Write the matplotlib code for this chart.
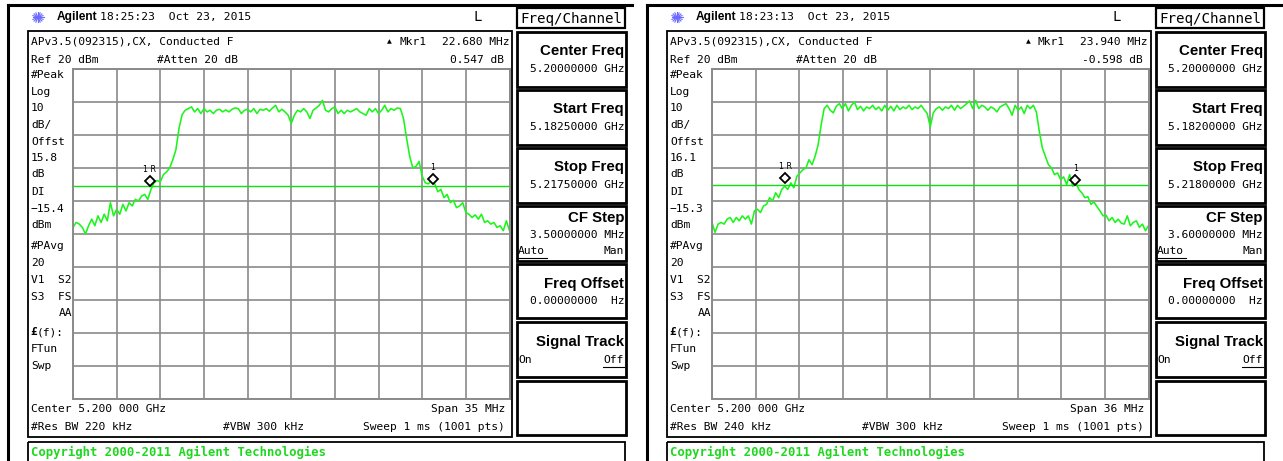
import matplotlib.pyplot as plt
import numpy as np
from matplotlib.patches import Rectangle

W, H = 1283, 461
MONO = "DejaVu Sans Mono"
SANS = "Liberation Sans"
TRACE_GREEN = "#1cf51c"
DL_GREEN = "#10e010"
TEXT_GREEN = "#1ed81e"
GRID_GREY = "#8a8a8a"

# ---- values ----
REF_DBM = 20
DB_PER_DIV = 10

LEFT_TIME = "18:25:23"
LEFT_SPAN_MHZ = 35
LEFT_RBW = "220 kHz"
LEFT_OFFSET = "15.8"
LEFT_DL_DBM = -15.4
LEFT_MKR_TEXT = ["22.680 MHz", "0.547 dB"]
LEFT_MKR_MHZ = [-11.34, 11.34]
LEFT_MKR_DBM = [-13.8, -13.2]
LEFT_START = "5.18250000 GHz"
LEFT_STOP = "5.21750000 GHz"
LEFT_CF_STEP = "3.50000000 MHz"
# trace level (dBm), sweep from start to stop
LEFT_LEVELS = [
    -28.0, -26.5, -27.0, -28.0, -30.0, -27.5, -25.5, -27.5, -24.5, -26.5,
    -24.0, -26.0, -20.5, -24.5, -22.5, -24.0, -21.0, -23.0, -20.5, -21.5,
    -19.5, -20.0, -18.5, -18.0, -19.5, -16.5, -14.5, -13.8, -14.2, -12.0,
    -11.2, -10.0, -7.5, -4.5, 2.0, 6.2, 7.5, 8.0, 8.5, 7.0,
    8.0, 6.5, 8.0, 7.0, 7.5, 6.5, 7.5, 7.8, 7.0, 7.6,
    7.0, 7.8, 8.2, 8.0, 6.5, 7.5, 7.8, 7.0, 8.0, 6.5,
    7.8, 7.5, 8.0, 7.2, 8.2, 9.0, 7.0, 7.8, 7.0, 6.0,
    3.5, 6.0, 7.5, 7.0, 8.0, 7.0, 5.0, 7.5, 8.2, 9.0,
    10.5, 7.5, 7.0, 8.0, 8.5, 6.5, 7.5, 6.5, 7.5, 7.0,
    7.5, 8.0, 7.0, 6.5, 6.0, 8.0, 7.0, 8.0, 6.5, 7.5,
    9.0, 7.0, 8.0, 7.5, 8.2, 8.0, 5.0, -1.0, -6.5, -10.0,
    -9.5, -8.0, -12.5, -14.5, -14.8, -13.8, -14.8, -17.2, -16.5, -19.0,
    -18.0, -20.5, -19.8, -22.0, -21.5, -20.5, -23.5, -24.0, -25.0, -24.2,
    -25.5, -24.0, -26.5, -26.0, -27.0, -26.5, -28.0, -27.5, -29.0, -26.0,
    -29.0,
]

RIGHT_TIME = "18:23:13"
RIGHT_SPAN_MHZ = 36
RIGHT_RBW = "240 kHz"
RIGHT_OFFSET = "16.1"
RIGHT_DL_DBM = -15.3
RIGHT_MKR_TEXT = ["23.940 MHz", "-0.598 dB"]
RIGHT_MKR_MHZ = [-11.97, 11.97]
RIGHT_MKR_DBM = [-13.0, -13.5]
RIGHT_START = "5.18200000 GHz"
RIGHT_STOP = "5.21800000 GHz"
RIGHT_CF_STEP = "3.60000000 MHz"
RIGHT_LEVELS = [
    -26.5, -29.5, -27.0, -26.5, -27.0, -25.5, -25.0, -26.5, -25.0, -26.0,
    -24.5, -25.5, -24.5, -27.0, -23.0, -22.5, -23.5, -21.5, -21.0, -19.0,
    -20.0, -17.5, -19.0, -16.5, -15.5, -16.5, -14.5, -16.0, -12.5, -11.5,
    -10.5, -10.0, -7.5, -9.0, -6.5, -3.0, 3.0, 8.0, 9.0, 7.5,
    6.7, 8.7, 9.5, 8.0, 9.5, 7.3, 9.0, 10.0, 7.7, 8.7,
    7.3, 8.5, 8.0, 9.0, 7.7, 8.5, 7.3, 9.0, 7.5, 8.7,
    7.3, 9.0, 7.7, 8.5, 8.0, 9.0, 7.7, 8.5, 8.0, 9.0,
    7.7, 6.5, 2.5, 6.7, 8.0, 8.5, 7.5, 8.5, 8.0, 9.0,
    7.5, 9.0, 8.0, 8.7, 9.5, 10.3, 8.0, 10.5, 8.0, 9.0,
    8.5, 7.5, 8.5, 8.0, 7.0, 8.5, 9.0, 9.5, 8.0, 6.0,
    9.0, 7.5, 8.5, 6.5, 9.0, 8.0, 9.0, 7.0, 1.0, -4.0,
    -6.5, -9.0, -10.0, -12.0, -11.5, -13.5, -12.7, -15.0, -12.0, -15.5,
    -14.3, -16.5, -17.5, -19.0, -18.7, -21.0, -20.3, -21.7, -23.0, -24.5,
    -24.3, -26.0, -25.0, -26.5, -25.5, -26.7, -27.0, -24.5, -27.5, -26.5,
    -26.0, -28.0, -27.0, -29.0, -27.5,
]

PANELS = [
    dict(ox=0, time=LEFT_TIME, span=LEFT_SPAN_MHZ, rbw=LEFT_RBW,
         offset=LEFT_OFFSET, dl=LEFT_DL_DBM, mkr_text=LEFT_MKR_TEXT,
         mkr_x=LEFT_MKR_MHZ, mkr_y=LEFT_MKR_DBM, start=LEFT_START,
         stop=LEFT_STOP, step=LEFT_CF_STEP, levels=LEFT_LEVELS, right=632),
    dict(ox=639, time=RIGHT_TIME, span=RIGHT_SPAN_MHZ, rbw=RIGHT_RBW,
         offset=RIGHT_OFFSET, dl=RIGHT_DL_DBM, mkr_text=RIGHT_MKR_TEXT,
         mkr_x=RIGHT_MKR_MHZ, mkr_y=RIGHT_MKR_DBM, start=RIGHT_START,
         stop=RIGHT_STOP, step=RIGHT_CF_STEP, levels=RIGHT_LEVELS, right=1283),
]

fig = plt.figure(figsize=(W / 100, H / 100), dpi=100)
fig.patch.set_facecolor("white")

# overlay in pixel coordinates for frames and screen annotations
ax0 = fig.add_axes([0, 0, 1, 1])
ax0.set_xlim(0, W)
ax0.set_ylim(H, 0)
ax0.axis("off")


def txt(x, y, s, ha="left", size=8.1, family=MONO, weight="normal", color="black"):
    ax0.text(x, y, s, ha=ha, va="center", fontsize=size, family=family,
             fontweight=weight, color=color)


def box(x0, y0, x1, y1, lw=1.2, color="black"):
    ax0.add_patch(Rectangle((x0, y0), x1 - x0, y1 - y0, fill=False,
                            ec=color, lw=lw))


def draw_panel(p):
    ox = p["ox"]

    # outer screen frame
    ax0.plot([ox + 8, p["right"]], [5, 5], color="black", lw=2.2)
    ax0.plot([ox + 8, ox + 8], [5, H], color="black", lw=2.2)

    # Agilent logo (starburst) and header
    cx, cy = ox + 38, 17.5
    for ang in np.linspace(0, np.pi, 8, endpoint=False):
        dx, dy = 5.5 * np.cos(ang), 5 * np.sin(ang)
        ax0.plot([cx - dx, cx + dx], [cy - dy, cy + dy], color="#6a6aff", lw=0.8)
    txt(ox + 57, 17, "Agilent", size=8.6, family=SANS, weight="bold")
    txt(ox + 100, 17, p["time"] + "  Oct 23, 2015", size=8.2)
    txt(ox + 478, 17, "L", ha="center", size=10)

    # measurement display box
    box(ox + 28, 31, ox + 512, 437, lw=1.3)
    txt(ox + 31, 42, "APv3.5(092315),CX, Conducted F")
    txt(ox + 31, 60, "Ref 20 dBm")
    txt(ox + 157, 60, "#Atten 20 dB")
    ax0.text(ox + 389, 42, "\u25b2", ha="center", va="center", fontsize=4.5,
             family="DejaVu Sans")
    txt(ox + 399, 42, "Mkr1")
    txt(ox + 509, 42, p["mkr_text"][0], ha="right")
    txt(ox + 504, 60, p["mkr_text"][1], ha="right")

    col = ["#Peak", "Log", "10", "dB/", "Offst", p["offset"], "dB", "DI",
           "%.1f" % p["dl"], "dBm", "#PAvg", "20", "V1  S2", "S3  FS"]
    col_y = [75, 92, 108, 125, 142, 158, 174, 192, 209, 225, 246, 263, 280, 297]
    for s, y in zip(col, col_y):
        txt(ox + 31, y, s.replace("-", "\u2212"))
    txt(ox + 72, 313, "AA", ha="right")
    txt(ox + 30, 332, "\u00a3", weight="bold")
    txt(ox + 37, 332, "(f):")
    txt(ox + 31, 349, "FTun")
    txt(ox + 31, 366, "Swp")

    txt(ox + 31, 409, "Center 5.200 000 GHz")
    txt(ox + 505, 409, "Span %d MHz" % p["span"], ha="right")
    txt(ox + 31, 427, "#Res BW " + p["rbw"])
    txt(ox + 223, 427, "#VBW 300 kHz")
    txt(ox + 505, 427, "Sweep 1 ms (1001 pts)", ha="right")

    # copyright bar
    box(ox + 28, 442, ox + 625, H + 10, lw=1.3)
    txt(ox + 31, 452, "Copyright 2000-2011 Agilent Technologies", size=8.8,
        weight="bold", color=TEXT_GREEN)

    # softkey menu: (label, value, label row, value row)
    box(ox + 517, 8, ox + 625, 28, lw=1.6)
    txt(ox + 571, 18.5, "Freq/Channel", ha="center", size=10.2)
    keys = [("Center Freq", "5.20000000 GHz", 51, 69),
            ("Start Freq", p["start"], 109, 127),
            ("Stop Freq", p["stop"], 167, 185),
            ("CF Step", p["step"], 218, 235),
            ("Freq Offset", "0.00000000  Hz", 284, 301),
            ("Signal Track", None, 342, None),
            (None, None, None, None)]
    key_y = [(32, 87), (90, 145), (148, 203), (206, 261), (264, 318), (322, 377), (381, 435)]
    for (label, value, ly, vy), (y0, y1) in zip(keys, key_y):
        box(ox + 517, y0, ox + 626, y1, lw=2.0)
        if label:
            txt(ox + 624, ly, label, ha="right", size=10.8, family=SANS,
                weight="bold")
        if value:
            txt(ox + 624, vy, value, ha="right")
    txt(ox + 518, 251, "Auto")
    ax0.plot([ox + 518, ox + 547], [258, 258], color="black", lw=0.8)
    txt(ox + 624, 251, "Man", ha="right")
    txt(ox + 518, 360, "On")
    txt(ox + 624, 360, "Off", ha="right")
    ax0.plot([ox + 603, ox + 624], [367, 367], color="black", lw=0.8)

    # graticule with the trace
    gx0, gx1, gy0, gy1 = ox + 73, ox + 509.5, 69, 399
    g = fig.add_axes([gx0 / W, 1 - gy1 / H, (gx1 - gx0) / W, (gy1 - gy0) / H])
    half = p["span"] / 2
    g.set_xlim(-half, half)
    g.set_ylim(REF_DBM - 10 * DB_PER_DIV, REF_DBM)
    g.set_xticks(np.linspace(-half, half, 11))
    g.set_yticks(np.arange(REF_DBM - 10 * DB_PER_DIV, REF_DBM + 1, DB_PER_DIV))
    g.tick_params(length=0, labelbottom=False, labelleft=False)
    g.set_axisbelow(True)
    g.grid(True, color=GRID_GREY, lw=1.2)
    for s in g.spines.values():
        s.set_color(GRID_GREY)
        s.set_linewidth(1.4)
    g.set_facecolor("none")

    freqs = np.linspace(-half, half, len(p["levels"]))
    g.plot(freqs, p["levels"], color=TRACE_GREEN, lw=1.15)
    g.axhline(p["dl"], color=DL_GREEN, lw=1.0)
    g.plot(p["mkr_x"], p["mkr_y"], "D", ms=5, mfc="white", mec="black", mew=1.3,
           clip_on=False)
    for lab, mx, my in zip(["1 R", "1"], p["mkr_x"], p["mkr_y"]):
        g.annotate(lab, (mx, my), xytext=(0, 8), textcoords="offset points",
                   ha="center", va="center", fontsize=5.8, family="DejaVu Sans")


for panel in PANELS:
    draw_panel(panel)

fig.savefig("out.png", dpi=100, facecolor="white")
